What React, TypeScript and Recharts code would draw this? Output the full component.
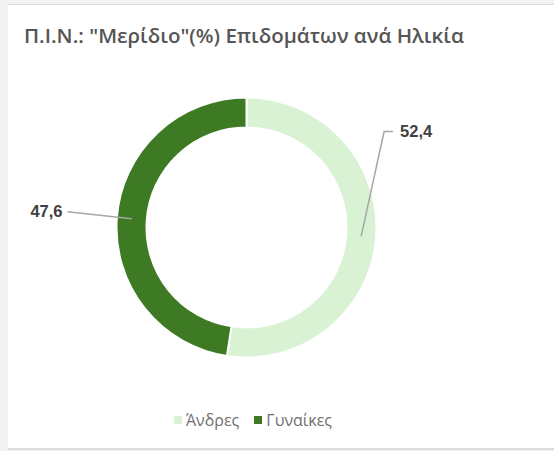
import React from 'react';
import { PieChart, Pie, Cell, Legend } from 'recharts';

const categories = ['Άνδρες', 'Γυναίκες'];
const shares = [52.4, 47.6];
const COLORS = ['#d9f2d3', '#3d7a23'];

const data = categories.map((name, i) => ({ name, value: shares[i] }));

const RADIAN = Math.PI / 180;

// label line: from mid-ring, out to an elbow, short horizontal, then the value
const renderLabel = (props: any) => {
  const { cx, cy, midAngle, innerRadius, outerRadius, value } = props;
  const cos = Math.cos(-midAngle * RADIAN);
  const sin = Math.sin(-midAngle * RADIAN);
  const rMid = (innerRadius + outerRadius) / 2;
  const sx = cx + rMid * cos;
  const sy = cy + rMid * sin;
  const right = cos >= 0;
  let mx: number, my: number;
  if (right) {
    mx = cx + (outerRadius + 8) * cos;
    my = cy - 96;
  } else {
    mx = cx - outerRadius - 49;
    my = sy - 7;
  }
  const ex = mx + (right ? 9 : 0);
  const ey = my;
  const label = value.toFixed(1).replace('.', ',');
  return (
    <g>
      <path d={`M${sx},${sy}L${mx},${my}L${ex},${ey}`} stroke="#a6a6a6" strokeWidth={1.5} fill="none" />
      <text
        x={ex + (right ? 7 : -5)}
        y={ey}
        dy={5.5}
        textAnchor={right ? 'start' : 'end'}
        fill="#404040"
        fontSize={16.5}
        fontWeight="bold"
        fontFamily="'Liberation Sans', Arial, sans-serif"
      >
        {label}
      </text>
    </g>
  );
};

const renderLegend = (props: any) => {
  const { payload } = props;
  return (
    <div style={{ display: 'flex', justifyContent: 'center', fontFamily: "'Open Sans', 'Noto Sans', sans-serif", fontSize: 16 }}>
      {payload.map((entry: any, i: number) => (
        <div key={`leg-${i}`} style={{ display: 'flex', alignItems: 'center', marginRight: i < payload.length - 1 ? 15 : 0 }}>
          <span style={{ display: 'inline-block', width: 8, height: 8, background: entry.color, marginRight: 4 }} />
          <span style={{ color: '#707070' }}>{entry.value}</span>
        </div>
      ))}
    </div>
  );
};

const App: React.FC = () => {
  return (
    <div style={{ position: 'absolute', left: 0, top: 0, width: 554, height: 451, background: '#f2f2f2', overflow: 'hidden' }}>
      <div
        style={{
          position: 'absolute',
          left: 8,
          top: 4,
          width: 546,
          height: 443,
          background: '#ffffff',
          borderTop: '1px solid #dcdcdc',
          borderBottom: '2px solid #dcdcdc',
        }}
      />
      <div
        style={{
          position: 'absolute',
          left: 24,
          top: 21,
          fontFamily: "'Open Sans', 'Noto Sans', sans-serif",
          fontWeight: 600,
          fontSize: 20.5,
          color: '#555555',
          whiteSpace: 'nowrap',
        }}
      >
        Π.Ι.Ν.: "Μερίδιο"(%) Επιδομάτων ανά Ηλικία
      </div>
      <div style={{ position: 'absolute', left: 0, top: 0 }}>
        <PieChart width={554} height={451} margin={{ top: 0, right: 0, bottom: 0, left: 0 }}>
          <Pie
            data={data}
            cx={246.5}
            cy={227.5}
            innerRadius={100}
            outerRadius={130}
            startAngle={90}
            endAngle={-270}
            dataKey="value"
            stroke="#ffffff"
            strokeWidth={2}
            label={renderLabel}
            labelLine={false}
            isAnimationActive={false}
          >
            {data.map((entry, index) => (
              <Cell key={`cell-${index}`} fill={COLORS[index % COLORS.length]} />
            ))}
          </Pie>
          <Legend
            verticalAlign="bottom"
            align="center"
            content={renderLegend}
            wrapperStyle={{ top: 409, bottom: 'auto', left: 0, width: 506 }}
          />
        </PieChart>
      </div>
    </div>
  );
};

export default App;
